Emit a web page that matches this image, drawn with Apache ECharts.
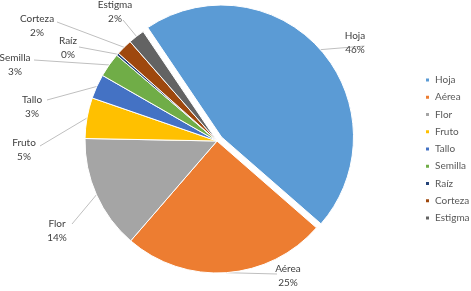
<!DOCTYPE html>
<html><head><meta charset="utf-8">
<script src="https://cdn.jsdelivr.net/npm/echarts@6/dist/echarts.min.js"></script>
<style>html,body{margin:0;padding:0;background:#fff}#c{width:471px;height:291px}</style>
</head><body><div id="c"></div>
<script>
const categories = ['Hoja','Aérea','Flor','Fruto','Tallo','Semilla','Raíz','Corteza','Estigma'];
const values = [46, 25, 14, 5, 3, 3, 0.3, 2, 2];
const colors = ['#5B9BD5','#ED7D31','#A5A5A5','#FFC000','#4472C4','#70AD47','#264478','#9E480E','#636363'];

// label layout (placement only, like Excel's manual label positions)
const labelAnchor = [[369,41],[288,276],[57,231],[24,150],[32,107],[15,65],[68,48],[37,26],[115,12]];
const leaderEnd  = [[360,50],[277,274],[72,224],[40,146],[47,100],[34,60],[79,47],[57,22],[123,20]];

const chart = echarts.init(document.getElementById('c'), null, {renderer:'canvas'});
chart.setOption({
  animation:false,
  color: colors,
  legend:{
    orient:'vertical', left:424, top:74, icon:'rect', itemWidth:5, itemHeight:5, itemGap:5.25,
    padding:0,
    textStyle:{fontFamily:'Lato', fontSize:10, color:'#595959', lineHeight:12},
    data: categories
  },
  series:[{
    type:'pie',
    center:[217,141], radius:132,
    startAngle:124, clockwise:true,
    selectedMode:'single', selectedOffset:6,
    avoidLabelOverlap:false,
    percentPrecision:0,
    itemStyle:{borderColor:'#fff', borderWidth:1},
    label:{position:'outside', formatter: p => p.name + '\n' + Math.round(p.percent) + '%',
      fontFamily:'Lato', fontSize:10, color:'#404040', lineHeight:14, align:'center'},
    labelLine:{show:true, length:10, length2:22, lineStyle:{color:'#BFBFBF', width:1}},
    labelLayout: function (p) {
      const i = p.dataIndex;
      const start = p.labelLinePoints ? p.labelLinePoints[0] : leaderEnd[i];
      return {
        x: labelAnchor[i][0], y: labelAnchor[i][1],
        align:'center', verticalAlign:'middle',
        labelLinePoints: [start, leaderEnd[i], leaderEnd[i]]
      };
    },
    emphasis:{disabled:true},
    select:{itemStyle:{borderColor:'#fff', borderWidth:1}},
    data: categories.map((n,i)=>({name:n, value:values[i], selected: i===0}))
  }]
});
</script></body></html>
